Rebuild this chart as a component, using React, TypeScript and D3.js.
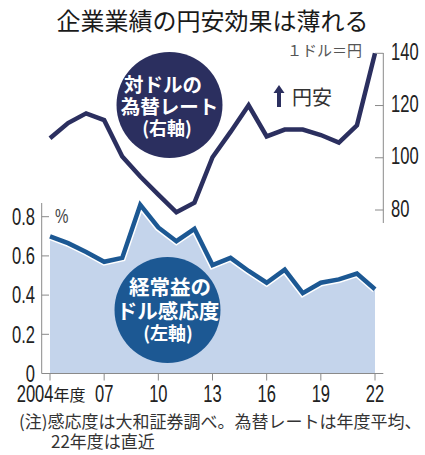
import React from "react";
import * as d3 from "d3";

const years = [2004, 2005, 2006, 2007, 2008, 2009, 2010, 2011, 2012, 2013, 2014, 2015, 2016, 2017, 2018, 2019, 2020, 2021, 2022];
const sensitivity = [0.70, 0.665, 0.62, 0.57, 0.59, 0.86, 0.745, 0.675, 0.738, 0.553, 0.59, 0.523, 0.463, 0.53, 0.41, 0.463, 0.48, 0.51, 0.43];
const fxRate = [107.5, 113.3, 117.0, 114.4, 100.5, 92.8, 85.9, 79.1, 82.8, 100.2, 109.9, 120.1, 108.2, 110.8, 110.8, 108.7, 105.8, 112.4, 140.0];
const leftTicks = [0, 0.2, 0.4, 0.6, 0.8];
const leftTickLabels = ["0", "0.2", "0.4", "0.6", "0.8"];
const rightTicks = [80, 100, 120, 140];
const xTicks = [2004, 2007, 2010, 2013, 2016, 2019, 2022];
const xTickLabels = ["2004", "07", "10", "13", "16", "19", "22"];
const title = "企業業績の円安効果は薄れる";
const note1 = "(注)感応度は大和証券調べ。為替レートは年度平均、";
const note2 = "22年度は直近";

const JP = "'Noto Sans CJK JP', sans-serif";
const NUM = "'Liberation Sans', Arial, sans-serif";
const SX = 0.72;

function NumText(props: { x: number; y: number; anchor?: string; size?: number; fill?: string; children: any }) {
  const { x, y, anchor = "start", size = 23, fill = "#222", children } = props;
  return (
    <text transform={`translate(${x},${y}) scale(${SX},1)`} textAnchor={anchor} fontFamily={NUM} fontSize={size} fill={fill}>
      {children}
    </text>
  );
}

export default function App() {
  const W = 425, H = 455;
  const x = d3.scaleLinear().domain([2004, 2022]).range([50, 375]);
  const yL = d3.scaleLinear().domain([0, 0.8]).range([373.5, 216.7]);
  const yR = d3.scaleLinear().domain([80, 140]).range([210, 53.3]);

  const pts = years.map((y, i) => ({ y, s: sensitivity[i], f: fxRate[i] }));
  const area = d3.area<any>().x(d => x(d.y)).y0(yL(0)).y1(d => yL(d.s))(pts) || "";
  const lineS = d3.line<any>().x(d => x(d.y)).y(d => yL(d.s))(pts) || "";
  const lineF = d3.line<any>().x(d => x(d.y)).y(d => yR(d.f))(pts) || "";

  const axisColor = "#8a8a8a";
  const navy = "#2b2f5f";
  const blue = "#1c5893";

  return (
    <svg width={W} height={H} style={{ position: "absolute", left: 0, top: 0, background: "#fff" }}>
      <rect x={0} y={0} width={W} height={H} fill="#fff" />
      <text x={212.5} y={30} textAnchor="middle" fontFamily={JP} fontSize={24} fill="#1a1a1a">{title}</text>

      {/* area */}
      <path d={area} fill="#c4d4eb" />
      <path d={lineS} fill="none" stroke="#fff" strokeWidth={7.5} strokeLinejoin="miter" />
      <path d={lineS} fill="none" stroke={blue} strokeWidth={4.5} strokeLinejoin="miter" />

      {/* left axis */}
      <line x1={41.7} x2={41.7} y1={203} y2={yL(0)} stroke={axisColor} strokeWidth={1} />
      {leftTicks.map((t, i) => (
        <g key={"l" + i}>
          {t > 0 && <line x1={41.7} x2={49} y1={yL(t)} y2={yL(t)} stroke={axisColor} strokeWidth={1} />}
          <NumText x={35} y={yL(t) + 8.2} anchor="end">{leftTickLabels[i]}</NumText>
        </g>
      ))}
      <NumText x={55} y={223} size={21} fill="#444">%</NumText>

      {/* x axis */}
      <line x1={41.7} x2={383.3} y1={yL(0)} y2={yL(0)} stroke={axisColor} strokeWidth={1} />
      {xTicks.map((t, i) => (
        <line key={"x" + i} x1={x(t)} x2={x(t)} y1={yL(0)} y2={yL(0) + 7} stroke={axisColor} strokeWidth={1} />
      ))}
      <NumText x={16.7} y={401.5}>{xTickLabels[0]}</NumText>
      <text x={53.5} y={400.5} fontFamily={JP} fontSize={16} fill="#222">年度</text>
      {xTicks.slice(1).map((t, i) => (
        <NumText key={"xl" + i} x={x(t)} y={401.5} anchor="middle">{xTickLabels[i + 1]}</NumText>
      ))}

      {/* right axis */}
      <line x1={383.3} x2={383.3} y1={53} y2={223} stroke={axisColor} strokeWidth={1} />
      {rightTicks.map((t, i) => (
        <g key={"r" + i}>
          <line x1={375} x2={383.3} y1={yR(t)} y2={yR(t)} stroke={axisColor} strokeWidth={1} />
          <NumText x={391} y={yR(t) + 6.5}>{t}</NumText>
        </g>
      ))}
      <text x={362} y={56} textAnchor="end" fontFamily={JP} fontSize={15} fill="#555">１ドル＝円</text>

      {/* fx line */}
      <path d={lineF} fill="none" stroke="#fff" strokeWidth={8} strokeLinejoin="miter" />
      <path d={lineF} fill="none" stroke={navy} strokeWidth={4.5} strokeLinejoin="miter" />

      {/* arrow 円安 */}
      <path d="M279,85 L284.5,93 L281,93 L281,107 L277,107 L277,93 L273.5,93 Z" fill={navy} />
      <text x={292} y={105} fontFamily={JP} fontSize={20} fill="#333">円安</text>

      {/* navy bubble */}
      <circle cx={169.5} cy={105} r={53} fill={navy} />
      <g fontFamily={JP} fontWeight="bold" fill="#fff" textAnchor="middle">
        <text x={163} y={92} fontSize={19.5}>対ドルの</text>
        <text x={169.5} y={114} fontSize={19.5}>為替レート</text>
        <text x={167} y={135} fontSize={18}>(右軸)</text>
      </g>

      {/* blue bubble */}
      <circle cx={167.5} cy={310} r={53} fill={blue} />
      <g fontFamily={JP} fontWeight="bold" fill="#fff" textAnchor="middle">
        <text x={170} y={295} fontSize={20.5}>経常益の</text>
        <text x={168} y={319} fontSize={20.5}>ドル感応度</text>
        <text x={168} y={340} fontSize={18}>(左軸)</text>
      </g>

      {/* notes */}
      <text x={19} y={427.5} fontFamily={JP} fontSize={17} fill="#333">{note1}</text>
      <text x={51} y={447.5} fontFamily={JP} fontSize={17} fill="#333">{note2}</text>
    </svg>
  );
}
